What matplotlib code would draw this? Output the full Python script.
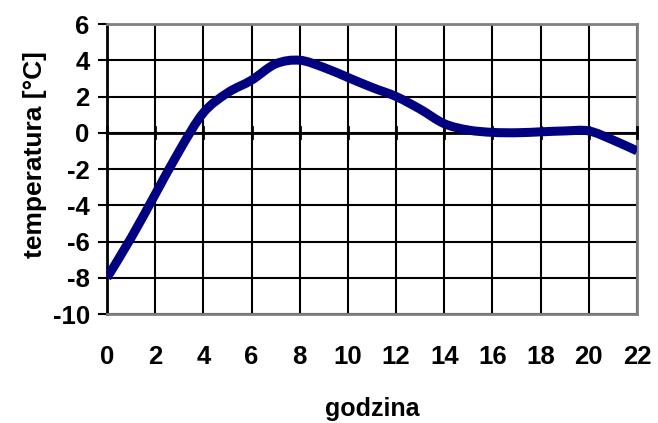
import matplotlib
matplotlib.use("Agg")
import matplotlib.pyplot as plt
from matplotlib.path import Path
from matplotlib.patches import PathPatch
import numpy as np

hours = [0, 1, 2, 3, 4, 5, 6, 7, 8, 9, 10, 11, 12, 13, 14, 15, 16, 17, 18, 19, 20, 21, 22]
temps = [-8.0, -5.8, -3.4, -1.0, 1.1, 2.2, 2.9, 3.8, 4.0, 3.6, 3.05, 2.5, 2.0, 1.3, 0.5,
         0.15, 0.02, 0.0, 0.05, 0.1, 0.1, -0.4, -1.0]
x_ticks = list(range(0, 23, 2))
y_ticks = list(range(-10, 7, 2))

plt.rcParams['font.family'] = ['Liberation Sans', 'DejaVu Sans']
plt.rcParams['font.weight'] = 'bold'
plt.rcParams['axes.unicode_minus'] = False

fig = plt.figure(figsize=(6.58, 4.23), dpi=100)
ax = fig.add_axes([107/658, 1-314/423, 530/658, 290/423])

# smoothed line (Catmull-Rom style Bezier through data points)
pts = np.column_stack([hours, temps]).astype(float)
n = len(pts)
verts = [tuple(pts[0])]
codes = [Path.MOVETO]
for i in range(n - 1):
    p0 = pts[i - 1] if i > 0 else pts[i]
    p1 = pts[i]
    p2 = pts[i + 1]
    p3 = pts[i + 2] if i + 2 < n else pts[i + 1]
    c1 = p1 + (p2 - p0) / 6.0
    c2 = p2 - (p3 - p1) / 6.0
    verts += [tuple(c1), tuple(c2), tuple(p2)]
    codes += [Path.CURVE4] * 3
ax.add_patch(PathPatch(Path(verts, codes), facecolor='none', edgecolor='#000080',
                       lw=6.5, capstyle='butt', joinstyle='round', zorder=5))

ax.set_xlim(0, 22)
ax.set_ylim(-10, 6)
ax.set_xticks(x_ticks)
ax.set_yticks(y_ticks)
ax.grid(True, color='black', lw=1.5)
ax.set_axisbelow(True)

# x axis line at y=0 with crossing ticks
ax.axhline(0, color='black', lw=2, zorder=3)
for xt in x_ticks:
    ax.plot([xt, xt], [-0.3, 0.3], color='black', lw=2, zorder=3, clip_on=False)

for s in ['top', 'right', 'bottom']:
    ax.spines[s].set_color('#808080')
    ax.spines[s].set_linewidth(2)
ax.spines['left'].set_color('black')
ax.spines['left'].set_linewidth(2)

ax.tick_params(axis='y', direction='out', length=6.5, width=1.5, pad=6, labelsize=18.5)
ax.tick_params(axis='x', direction='in', length=0, pad=22.5, labelsize=18.5)
for lab in ax.get_xticklabels() + ax.get_yticklabels():
    lab.set_fontweight('bold')

fig.text(35/658, 1-155/423, 'temperatura [°C]', rotation=90, ha='center', va='center',
         fontsize=19, fontweight='bold')
fig.text(372/658, 1-409/423, 'godzina', ha='center', va='center',
         fontsize=18, fontweight='bold')

fig.savefig('out.png', dpi=100)
